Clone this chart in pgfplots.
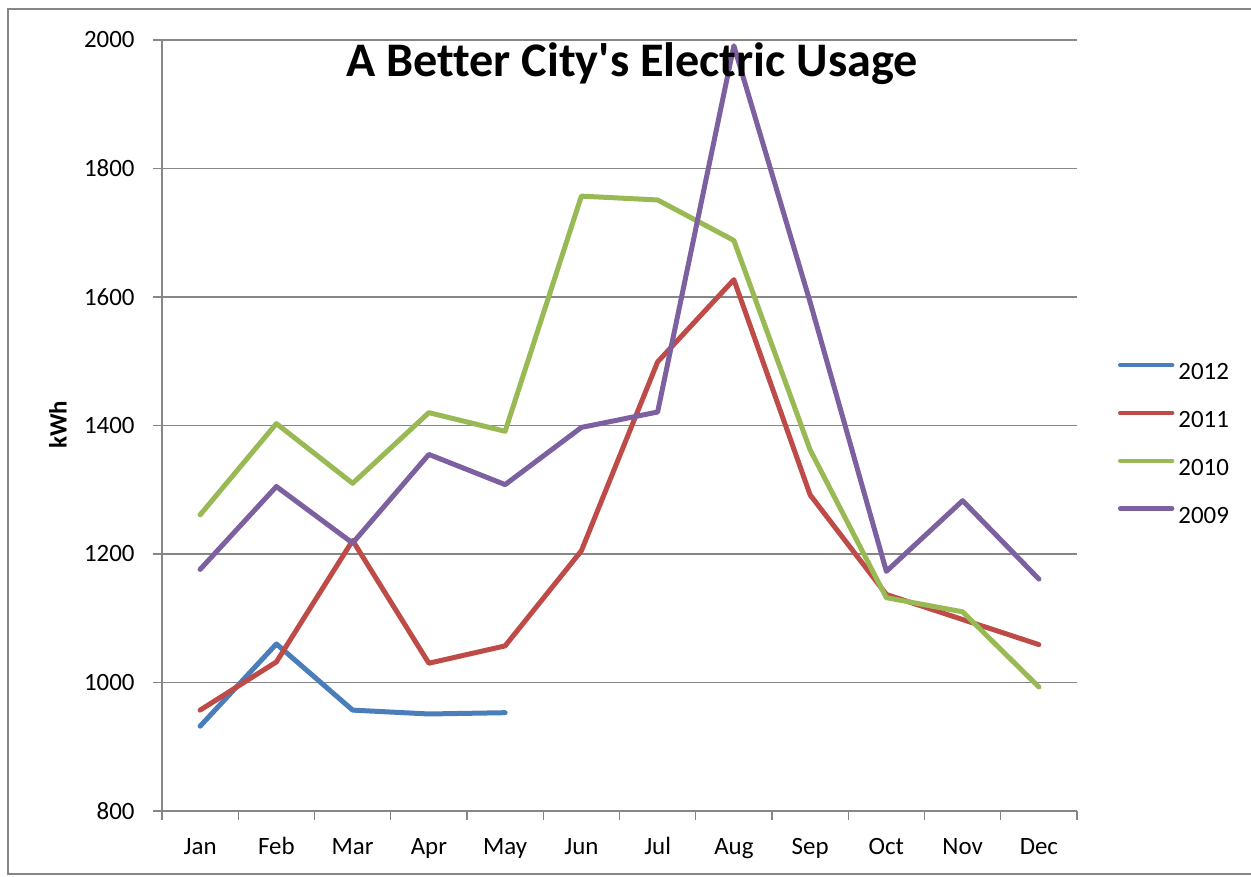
\documentclass[border=0pt]{standalone}
\usepackage{pgfplots}
\pgfplotsset{compat=1.18}
\usepackage{fontspec}
\setmainfont{Carlito}[Ligatures={TeX,NoCommon}]
\definecolor{c2012}{HTML}{4A7EBB}
\definecolor{c2011}{HTML}{BE4B48}
\definecolor{c2010}{HTML}{98B954}
\definecolor{c2009}{HTML}{7D60A0}
\definecolor{gridgray}{HTML}{868686}
\begin{document}
\begin{tikzpicture}
\useasboundingbox (0,0) rectangle (625.5bp,438.5bp);
\draw[gridgray, line width=1bp] (640bp,434bp) -- (4bp,434bp) -- (4bp,1.5bp) -- (640bp,1.5bp);
\begin{axis}[
  at={(81bp,33bp)}, anchor=south west,
  scale only axis, width=457.5bp, height=385.5bp,
  xmin=-0.5, xmax=11.5, ymin=800, ymax=2000,
  xtick={0,...,11},
  xticklabels={Jan,Feb,Mar,Apr,May,Jun,Jul,Aug,Sep,Oct,Nov,Dec},
  minor xtick={-0.5,0.5,...,11.5},
  ytick={800,1000,...,2000},
  axis x line*=bottom, axis y line*=left,
  tick align=outside,
  major tick length=4.5bp, minor tick length=4.5bp,
  tick style={gridgray, line width=0.6bp},
  major x tick style={draw=none},
  ymajorgrids, grid style={gridgray, line width=0.6bp},
  axis line style={gridgray, line width=0.6bp},
  /pgf/number format/assume math mode=true,
  /pgf/number format/1000 sep={},
  ticklabel style={font=\fontsize{12.5}{15}\selectfont, text=black},
  yticklabel style={inner sep=0pt, xshift=-9bp},
  xticklabel style={anchor=base, inner sep=0pt, yshift=-17bp},
  title={A Better City\textquotesingle s Electric Usage},
  title style={at={(axis description cs:0.5137,0.9546)}, anchor=base, inner sep=0pt, yshift=-6.5bp, font=\bfseries\fontsize{24.2}{29}\selectfont},
  ylabel={kWh},
  ylabel style={at={(axis description cs:-0.1137,0.5007)}, anchor=center, inner sep=0pt, font=\bfseries\fontsize{12.5}{15}\selectfont},
  legend style={at={(rel axis cs:1.0448,0.581)}, anchor=north west, draw=none, fill=none, inner sep=0pt, outer sep=0pt,
    font=\fontsize{12.5}{15}\selectfont, nodes={inner sep=0pt}, row sep=14bp, column sep=2bp},
  legend cell align=left,
  legend image code/.code={\draw[#1, line width=2.2bp, line cap=round] (0bp,4bp) -- (26bp,4bp);},
]
\addplot[c2012, line width=2.5bp, line join=round, line cap=round] coordinates {
(0,932) (1,1060) (2,957) (3,951) (4,953)};
\addlegendentry{2012}
\addplot[c2011, line width=2.5bp, line join=round, line cap=round] coordinates {
(0,957) (1,1032) (2,1221) (3,1030) (4,1057) (5,1205) (6,1499) (7,1627) (8,1292) (9,1137) (10,1098) (11,1059)};
\addlegendentry{2011}
\addplot[c2010, line width=2.5bp, line join=round, line cap=round] coordinates {
(0,1261) (1,1403) (2,1310) (3,1420) (4,1391) (5,1757) (6,1751) (7,1688) (8,1362) (9,1132) (10,1110) (11,993)};
\addlegendentry{2010}
\addplot[c2009, line width=2.5bp, line join=round, line cap=round] coordinates {
(0,1176) (1,1305) (2,1217) (3,1355) (4,1308) (5,1397) (6,1421) (7,1991) (8,1592) (9,1173) (10,1283) (11,1161)};
\addlegendentry{2009}
\end{axis}
\end{tikzpicture}
\end{document}
